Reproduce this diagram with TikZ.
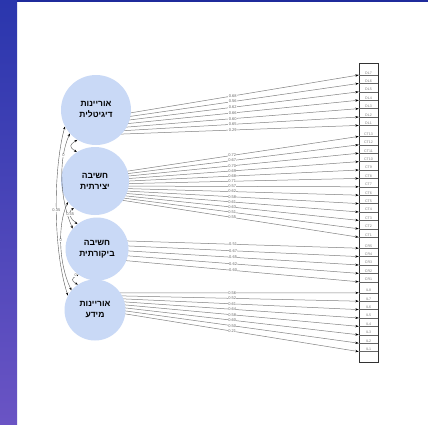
\documentclass[tikz,border=0pt]{standalone}
\usepackage{fontspec}
\setmainfont{Liberation Sans}
\newfontfamily\hebfont[Script=Hebrew]{Liberation Sans}
\TeXXeTstate=1
\usetikzlibrary{arrows.meta,calc,backgrounds}
\definecolor{latfill}{HTML}{C9D9F6}
\definecolor{edgegray}{HTML}{808080}
\definecolor{striptop}{HTML}{2A36AD}
\definecolor{stripbot}{HTML}{6A54C4}
\definecolor{topbar}{HTML}{1F2B9C}
\begin{document}
\begin{tikzpicture}[x=1pt,y=-1pt,
  latent/.style={circle, fill=latfill, draw=none, minimum size=#1, inner sep=0pt,
    font=\hebfont\bfseries\fontsize{8.5}{11}\selectfont, align=center, text=black},
  load/.style={draw=edgegray, line width=0.5pt, -{Stealth[length=3.5pt,width=2.4pt,black]}},
  loadlab/.style={font=\fontsize{4}{4.5}\selectfont, text=black!60, fill=white, inner sep=0.3pt, pos=0.52},
  ind/.style={font=\fontsize{3.6}{4}\selectfont, text=black!50, inner sep=0.8pt, minimum width=19pt, anchor=south},
  rowline/.style={draw=black!60, line width=0.35pt},
  cov/.style={draw=black!65, line width=0.4pt, {Stealth[length=3pt,width=2.2pt,black]}-{Stealth[length=3pt,width=2.2pt,black]}},
  covlab/.style={font=\fontsize{4}{4.5}\selectfont, text=black!60, fill=white, inner sep=0.3pt}
]
\useasboundingbox (0,0) rectangle (428,424);

% latent variables
\node[latent=70pt] (c1) at (96,110) {\beginR אוריינות\endR\\\beginR דיגיטלית\endR};
\node[latent=68pt] (c2) at (95,181) {\beginR חשיבה\endR\\\beginR יצירתית\endR};
\node[latent=63pt] (c3) at (97,249) {\beginR חשיבה\endR\\\beginR ביקורתית\endR};
\node[latent=61pt] (c4) at (95,310) {\beginR אוריינות\endR\\\beginR מידע\endR};

% indicator column
\node[draw=black!80, line width=0.5pt, minimum width=19pt, minimum height=299pt, inner sep=0pt] (box) at (368.5,212.5) {};
\foreach \n [count=\i from 0] in {DL7,DL6,DL5,DL4,DL3,DL2,DL1}
  {\node[ind] (\n) at (368.5,{75+8.4*\i}) {\n}; \draw[rowline] (\n.south west) -- (\n.south east);}
\foreach \n [count=\i from 0] in {CT13,CT12,CT11,CT10,CT9,CT8,CT7,CT6,CT5,CT4,CT3,CT2,CT1}
  {\node[ind] (\n) at (368.5,{136.4+8.4*\i}) {\n}; \draw[rowline] (\n.south west) -- (\n.south east);}
\foreach \n [count=\i from 0] in {CR5,CR4,CR3,CR2,CR1}
  {\node[ind] (\n) at (368.5,{248.2+8.4*\i}) {\n}; \draw[rowline] (\n.south west) -- (\n.south east);}
\foreach \n [count=\i from 0] in {IL8,IL7,IL6,IL5,IL4,IL3,IL2,IL1}
  {\node[ind] (\n) at (368.5,{292.8+8.4*\i}) {\n}; \draw[rowline] (\n.south west) -- (\n.south east);}

% covariances
\draw[cov] (c1.222) .. controls (58,160) and (60,200) .. (c3.140) node[covlab,pos=0.25] {0};
\draw[cov] (c2.218) .. controls (57,225) and (59,265) .. (c4.140) node[covlab,pos=0.45] {0};
\draw[cov] (c1.208) .. controls (53,170) and (53,250) .. (c4.152) node[covlab,pos=0.5] {0.35};
\draw[cov] (c1.238) .. controls ($(c1.238)+(-8,5)$) and ($(c2.122)+(-8,-5)$) .. (c2.122);
\draw[cov] (c2.232) .. controls ($(c2.232)+(-7,5)$) and ($(c3.128)+(-7,-5)$) .. (c3.128) node[covlab,pos=0.4] {0.45};
\draw[cov] (c3.234) .. controls ($(c3.234)+(-7,4)$) and ($(c4.124)+(-7,-4)$) .. (c4.124) node[covlab,pos=0.05,left] {0};

\begin{scope}[on background layer]
  \fill[white] (0,0) rectangle (428,424);
  \shade[top color=striptop, bottom color=stripbot] (0,0) rectangle (17,424);
  \fill[topbar] (17,0) rectangle (428,2.2);
  \foreach \n/\v [count=\i from 0] in {DL7/0.68,DL6/0.56,DL5/0.62,DL4/0.66,DL3/0.60,DL2/0.65,DL1/0.29}
    {\draw[load] ($(c1.center)+(0,{8.6+16.4*\i/6})$) -- node[loadlab] {\v} (\n.south west);}
  \foreach \n/\v [count=\i from 0] in {CT13/0.72,CT12/0.67,CT11/0.70,CT10/0.69,CT9/0.68,CT8/0.71,CT7/0.57,CT6/0.62,CT5/0.58,CT4/0.61,CT3/0.63,CT2/0.51,CT1/0.55}
    {\draw[load] ($(c2.center)+(0,{-5+20*\i/12})$) -- node[loadlab] {\v} (\n.south west);}
  \foreach \n/\v [count=\i from 0] in {CR5/0.51,CR4/0.67,CR3/0.65,CR2/0.62,CR1/0.60}
    {\draw[load] ($(c3.center)+(0,{-9+18*\i/4})$) -- node[loadlab] {\v} (\n.south west);}
  \foreach \n/\v [count=\i from 0] in {IL8/0.56,IL7/0.52,IL6/0.61,IL5/0.64,IL4/0.58,IL3/0.60,IL2/0.50,IL1/0.21}
    {\draw[load] ($(c4.center)+(0,{-17+16*\i/7})$) -- node[loadlab] {\v} (\n.south west);}
\end{scope}
\end{tikzpicture}
\end{document}
